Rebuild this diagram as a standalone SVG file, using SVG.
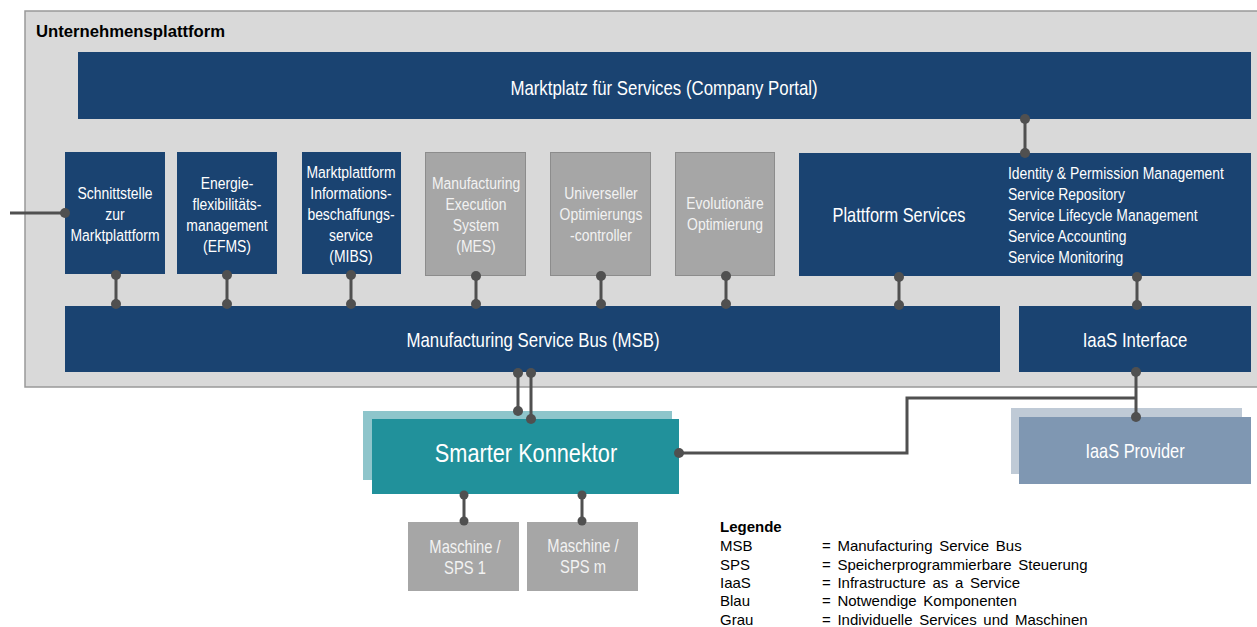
<svg xmlns="http://www.w3.org/2000/svg" width="1257" height="627" viewBox="0 0 1257 627">
<style>
.t{font-family:"Liberation Sans",Arial,sans-serif;fill:#fff;text-anchor:middle;font-size:17px}
.s{text-anchor:start}
.g{fill:#f2f2f2}
.m{font-size:18px}
.blue{fill:#1a4371}
.gray{fill:#a6a6a6;stroke:#8c8c8c;stroke-width:1}
.ln{stroke:#505050;stroke-width:3;fill:none}
.d{fill:#505050}
.leg{font-family:"Liberation Sans",Arial,sans-serif;font-size:15px;fill:#000;word-spacing:2.5px}
</style>
<rect width="1257" height="627" fill="#fff"/>
<g id="platform">
<rect x="25" y="11" width="1240" height="376" fill="#d9d9d9" stroke="#999" stroke-width="1.5"/>
<text x="36" y="37" font-family="Liberation Sans,Arial,sans-serif" font-weight="bold" font-size="16.7">Unternehmensplattform</text>
</g>
<g id="marktplatz"><rect class="blue" x="78" y="52" width="1173" height="67"/><text class="t" style="font-size:20.5px" transform="translate(664 95) scale(.82 1)">Marktplatz für Services (Company Portal)</text></g>
<g id="schnittstelle"><rect class="blue" x="65" y="152" width="100" height="122"/>
<text class="t" transform="translate(115 199) scale(.82 1)">Schnittstelle</text><text class="t" transform="translate(115 220) scale(.82 1)">zur</text><text class="t" transform="translate(115 241) scale(.82 1)">Marktplattform</text></g>
<g id="efms"><rect class="blue" x="177" y="152" width="100" height="122"/>
<text class="t" transform="translate(227 189) scale(.82 1)">Energie-</text><text class="t" transform="translate(227 210) scale(.82 1)">flexibilitäts-</text><text class="t" transform="translate(227 231) scale(.82 1)">management</text><text class="t" transform="translate(227 252) scale(.82 1)">(EFMS)</text></g>
<g id="mibs"><rect class="blue" x="302" y="152" width="99" height="122"/>
<text class="t" transform="translate(351 178) scale(.82 1)">Marktplattform</text><text class="t" transform="translate(351 199) scale(.82 1)">Informations-</text><text class="t" transform="translate(351 220) scale(.82 1)">beschaffungs-</text><text class="t" transform="translate(351 241) scale(.82 1)">service</text><text class="t" transform="translate(351 262) scale(.82 1)">(MIBS)</text></g>
<g id="mes"><rect class="gray" x="425.5" y="152.5" width="100" height="123"/>
<text class="t g" transform="translate(476 189) scale(.82 1)">Manufacturing</text><text class="t g" transform="translate(476 210) scale(.82 1)">Execution</text><text class="t g" transform="translate(476 231) scale(.82 1)">System</text><text class="t g" transform="translate(476 252) scale(.82 1)">(MES)</text></g>
<g id="optimierungscontroller"><rect class="gray" x="550.5" y="152.5" width="100" height="123"/>
<text class="t g" transform="translate(601 199) scale(.82 1)">Universeller</text><text class="t g" transform="translate(601 220) scale(.82 1)">Optimierungs</text><text class="t g" transform="translate(601 241) scale(.82 1)">-controller</text></g>
<g id="evolutionaer"><rect class="gray" x="675.5" y="152.5" width="99" height="123"/>
<text class="t g" transform="translate(725 209) scale(.82 1)">Evolutionäre</text><text class="t g" transform="translate(725 230) scale(.82 1)">Optimierung</text></g>
<g id="plattformservices"><rect class="blue" x="799" y="153" width="452" height="123"/>
<text class="t" style="font-size:20px" transform="translate(899 222) scale(.82 1)">Plattform Services</text>
<text class="t s" transform="translate(1008 179) scale(.82 1)">Identity &amp; Permission  Management</text>
<text class="t s" transform="translate(1008 200) scale(.82 1)">Service  Repository</text>
<text class="t s" transform="translate(1008 221) scale(.82 1)">Service  Lifecycle  Management</text>
<text class="t s" transform="translate(1008 242) scale(.82 1)">Service  Accounting</text>
<text class="t s" transform="translate(1008 263) scale(.82 1)">Service  Monitoring</text></g>
<g id="msb"><rect class="blue" x="65" y="306" width="935" height="66"/><text class="t" style="font-size:20.5px" transform="translate(533 347) scale(.82 1)">Manufacturing Service Bus (MSB)</text></g>
<g id="iaasinterface"><rect class="blue" x="1019" y="306" width="232" height="66"/><text class="t" style="font-size:20.5px" transform="translate(1135 347) scale(.82 1)">IaaS Interface</text></g>
<g id="smarterkonnektor"><rect x="363" y="411" width="309" height="69" fill="#8ec5cb"/><rect x="372" y="419" width="307" height="75" fill="#21919b"/><text class="t" style="font-size:26.5px" transform="translate(526 462) scale(.82 1)">Smarter Konnektor</text></g>
<g id="iaasprovider"><rect x="1011" y="408" width="231" height="66" fill="#bfcad6"/><rect x="1019" y="417" width="232" height="67" fill="#7f97b2"/><text class="t" style="font-size:20px" transform="translate(1135 458) scale(.82 1)">IaaS Provider</text></g>
<g id="maschine1"><rect x="408" y="522" width="111" height="69" fill="#a6a6a6"/><text class="t g m" transform="translate(465 553) scale(.82 1)">Maschine /</text><text class="t g m" transform="translate(465 574) scale(.82 1)">SPS 1</text></g>
<g id="maschinem"><rect x="527" y="522" width="111" height="69" fill="#a6a6a6"/><text class="t g m" transform="translate(583 552) scale(.82 1)">Maschine /</text><text class="t g m" transform="translate(583 573) scale(.82 1)">SPS m</text></g>
<g id="connectors">
<path class="ln" d="M1025 119V153M10 213H65M116 275V304M227 275V304M351 275V304M476 276V304M601 276V304M726 276V304M899 276V304M1137 276V304M518 373V411M531 373V419M464 495V522M582 495V522M679 453H907V398H1136M1136 372V417"/>
<g class="d">
<circle cx="1025" cy="119" r="5"/><circle cx="1025" cy="153" r="5"/><circle cx="65" cy="213" r="5"/>
<circle cx="116" cy="275" r="5"/><circle cx="116" cy="304" r="5"/>
<circle cx="227" cy="275" r="5"/><circle cx="227" cy="304" r="5"/>
<circle cx="351" cy="275" r="5"/><circle cx="351" cy="304" r="5"/>
<circle cx="476" cy="276" r="5"/><circle cx="476" cy="304" r="5"/>
<circle cx="601" cy="276" r="5"/><circle cx="601" cy="304" r="5"/>
<circle cx="726" cy="276" r="5"/><circle cx="726" cy="304" r="5"/>
<circle cx="899" cy="277" r="5"/><circle cx="899" cy="305" r="5"/>
<circle cx="1137" cy="277" r="5"/><circle cx="1137" cy="305" r="5"/>
<circle cx="518" cy="373" r="5"/><circle cx="518" cy="411" r="5"/>
<circle cx="531" cy="373" r="5"/><circle cx="531" cy="419" r="5"/>
<circle cx="464" cy="495" r="4.5"/><circle cx="464" cy="521" r="4.5"/>
<circle cx="582" cy="495" r="4.5"/><circle cx="582" cy="521" r="4.5"/>
<circle cx="679" cy="453" r="5"/><circle cx="1136" cy="372" r="5"/><circle cx="1136" cy="417" r="5"/>
</g></g>
<g id="legende" class="leg">
<text x="720" y="532" font-weight="bold">Legende</text>
<text x="720" y="551">MSB</text><text x="822" y="551">= Manufacturing Service Bus</text>
<text x="720" y="570">SPS</text><text x="822" y="570">= Speicherprogrammierbare Steuerung</text>
<text x="720" y="588">IaaS</text><text x="822" y="588">= Infrastructure as a Service</text>
<text x="720" y="606">Blau</text><text x="822" y="606">= Notwendige Komponenten</text>
<text x="720" y="625">Grau</text><text x="822" y="625">= Individuelle Services und Maschinen</text>
</g>
</svg>
